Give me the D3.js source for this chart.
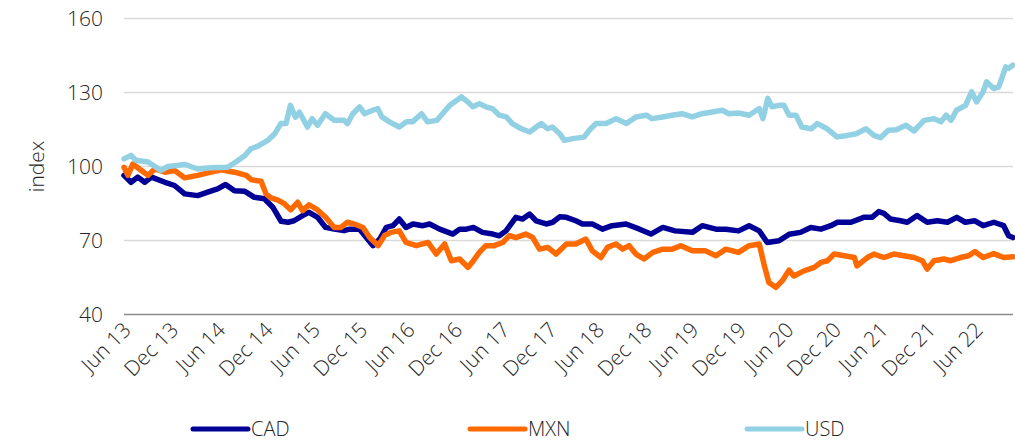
<!DOCTYPE html>
<html>
<head>
<meta charset="utf-8">
<title>index</title>
<script src="https://cdn.jsdelivr.net/npm/d3@7"></script>
<style>
	body{margin:0;background:#fff;}
	text{font-family:"Open Sans",sans-serif;font-weight:300;fill:#262626;}
</style>
</head>
<body>
<script>
var tickLabels=["Jun 13","Dec 13","Jun 14","Dec 14","Jun 15","Dec 15","Jun 16","Dec 16","Jun 17",
				"Dec 17","Jun 18","Dec 18","Jun 19","Dec 19","Jun 20","Dec 20","Jun 21","Dec 21","Jun 22"];
var yTicks=[40,70,100,130,160];
var seriesNames=["CAD","MXN","USD"];

var cad=[["2013-06-01",96.4],["2013-06-28",93.6],["2013-07-24",95.7],["2013-08-20",93.6],["2013-09-15",95.7],
	["2013-11-06",93.6],["2013-12-13",92.3],["2014-01-21",88.9],["2014-03-12",88.2],["2014-04-20",89.6],
	["2014-05-28",90.9],["2014-06-28",92.7],["2014-08-01",90.2],["2014-09-09",90],["2014-10-17",87.5],
	["2014-11-25",86.9],["2014-12-27",83.5],["2015-01-28",77.8],["2015-02-24",77.4],["2015-03-19",78],
	["2015-04-21",80.1],["2015-05-16",81.4],["2015-06-18",79.4],["2015-07-19",75.3],["2015-08-21",74.6],
	["2015-09-28",74],["2015-10-19",74.6],["2015-11-27",74.6],["2015-12-23",71.2],["2016-01-18",67.9],
	["2016-02-13",70.6],["2016-03-09",75.3],["2016-04-04",76],["2016-04-28",78.7],["2016-05-24",75.3],
	["2016-06-20",76.7],["2016-07-28",76],["2016-08-23",76.7],["2016-10-01",74.6],["2016-11-21",72.6],
	["2016-12-17",74.6],["2017-01-12",74.6],["2017-02-08",75.3],["2017-03-15",73.3],["2017-04-24",72.6],
	["2017-05-19",71.9],["2017-06-14",73.9],["2017-07-22",79.4],["2017-08-17",78.7],["2017-09-13",80.7],
	["2017-10-08",78],["2017-11-16",76.7],["2017-12-11",77.4],["2018-01-07",79.6],["2018-02-02",79.4],
	["2018-03-10",78],["2018-04-05",76.7],["2018-05-13",76.7],["2018-06-21",74.6],["2018-07-28",76],
	["2018-09-20",76.7],["2018-11-11",74.6],["2018-12-25",72.6],["2019-02-09",75.3],["2019-03-28",73.9],
	["2019-06-03",73.3],["2019-07-11",76],["2019-09-02",74.6],["2019-10-10",74.6],["2019-11-28",73.9],
	["2020-01-08",76],["2020-02-16",73.9],["2020-03-18",69.2],["2020-05-02",69.9],["2020-06-10",72.5],
	["2020-07-24",73.3],["2020-09-02",75.3],["2020-10-11",74.6],["2020-11-18",76],["2020-12-14",77.4],
	["2021-02-04",77.4],["2021-03-25",79.4],["2021-04-26",79.4],["2021-05-22",81.7],["2021-06-11",81],
	["2021-07-06",78.7],["2021-08-14",78],["2021-09-09",77.4],["2021-10-17",80.1],["2021-11-25",77.4],
	["2022-01-03",78],["2022-02-11",77.4],["2022-03-19",79.4],["2022-04-21",77.4],["2022-05-28",78],
	["2022-06-29",76],["2022-08-09",77.4],["2022-09-16",76],["2022-10-05",71.9],["2022-10-22",71.2]];

var mxn=[["2013-06-01",99.7],["2013-06-16",96.4],["2013-07-05",101],["2013-08-07",98.4],["2013-09-02",96.4],
	["2013-09-27",99],["2013-11-06",97.7],["2013-12-13",98.4],["2014-01-21",95.4],["2014-03-12",96.4],
	["2014-05-03",97.7],["2014-06-11",98.7],["2014-08-01",97.7],["2014-09-16",96.4],["2014-10-05",94.6],
	["2014-11-12",94],["2014-12-01",88.9],["2014-12-20",87.3],["2015-01-16",86.4],["2015-02-11",84.8],
	["2015-03-06",82.4],["2015-04-02",85.5],["2015-04-21",82.1],["2015-05-16",84.5],["2015-06-18",82.4],
	["2015-07-19",79.4],["2015-08-21",75.3],["2015-09-16",75.3],["2015-10-11",77.4],["2015-11-14",76.4],
	["2015-12-10",75.3],["2016-01-05",71.2],["2016-02-07",67.9],["2016-03-02",72],["2016-03-27",73.3],
	["2016-04-28",73.9],["2016-05-24",69.2],["2016-07-03",67.9],["2016-08-17",69.2],["2016-09-18",64.5],
	["2016-10-20",68.6],["2016-11-15",61.8],["2016-12-17",62.5],["2017-01-18",59.1],["2017-02-08",61.8],
	["2017-03-03",65.2],["2017-03-28",67.9],["2017-04-29",67.9],["2017-06-01",69.2],["2017-06-27",72],
	["2017-07-22",71.2],["2017-08-29",72.6],["2017-09-25",71.2],["2017-10-21",66.5],["2017-11-22",67.2],
	["2017-12-24",64.5],["2018-02-02",68.6],["2018-03-10",68.6],["2018-04-18",70.6],["2018-05-13",65.8],
	["2018-06-15",63.1],["2018-07-10",67.2],["2018-08-12",68.6],["2018-09-07",66.5],["2018-10-02",67.9],
	["2018-10-28",64.5],["2018-11-28",62.5],["2019-01-01",65.2],["2019-02-09",66.5],["2019-03-17",66.5],
	["2019-04-19",67.9],["2019-06-03",65.8],["2019-07-24",65.8],["2019-09-02",63.8],["2019-10-10",66.5],
	["2019-11-28",65.2],["2020-01-08",67.9],["2020-02-16",68.6],["2020-03-05",60.5],["2020-03-24",53],
	["2020-04-20",51],["2020-05-15",53.7],["2020-06-10",58],["2020-06-28",55.6],["2020-08-07",57.7],
	["2020-09-15",59.1],["2020-10-11",61.1],["2020-11-05",61.8],["2020-12-01",64.5],["2021-01-09",63.8],
	["2021-02-17",63.1],["2021-02-27",59.7],["2021-04-08",63.1],["2021-05-03",64.5],["2021-06-11",63.1],
	["2021-07-19",64.5],["2021-08-27",63.8],["2021-10-05",63.1],["2021-11-06",61.8],["2021-11-25",58.4],
	["2021-12-21",61.8],["2022-01-28",62.5],["2022-02-24",61.8],["2022-04-02",63.1],["2022-05-04",63.8],
	["2022-05-28",65.5],["2022-06-29",63.1],["2022-08-09",64.7],["2022-09-16",63.1],["2022-10-22",63.4]];

var usd=[["2013-06-01",103.1],["2013-06-28",104.5],["2013-07-17",102.5],["2013-09-02",101.8],["2013-10-03",99.7],
	["2013-10-21",98.4],["2013-11-18",100],["2014-01-23",100.8],["2014-03-12",99],["2014-05-01",99.5],
	["2014-07-06",99.7],["2014-08-06",101.8],["2014-09-11",104.5],["2014-10-03",107.2],["2014-10-29",108.2],
	["2014-12-08",110.6],["2015-01-04",113.3],["2015-01-27",117.4],["2015-02-16",117.4],["2015-03-05",124.8],
	["2015-03-24",120],["2015-04-09",122],["2015-05-10",116],["2015-05-28",119.4],["2015-06-18",116.7],
	["2015-07-18",121.4],["2015-08-22",118.7],["2015-09-28",118.7],["2015-10-11",117.4],["2015-11-01",121.4],
	["2015-11-27",124.2],["2015-12-16",121.4],["2016-01-17",122.8],["2016-02-05",123.5],["2016-02-21",120.1],
	["2016-03-21",118.1],["2016-04-28",116],["2016-05-26",118.1],["2016-06-18",118.1],["2016-07-23",121.4],
	["2016-08-15",118.1],["2016-09-20",118.7],["2016-10-12",121.4],["2016-11-09",124.8],["2016-11-28",126.2],
	["2016-12-24",128.2],["2017-01-17",126.2],["2017-02-06",124.2],["2017-03-03",125.5],["2017-03-28",124.2],
	["2017-04-22",123.5],["2017-05-19",120.8],["2017-06-15",120.1],["2017-07-08",117.4],["2017-08-12",115.3],
	["2017-09-13",114],["2017-10-09",116],["2017-10-28",117.4],["2017-11-21",115.3],["2017-12-10",116],
	["2018-01-07",113.3],["2018-01-25",110.6],["2018-02-26",111.3],["2018-04-11",111.9],["2018-05-01",114.7],
	["2018-05-27",117.4],["2018-07-05",117.4],["2018-08-13",119.4],["2018-09-21",117.4],["2018-10-28",120.1],
	["2018-12-07",120.8],["2018-12-29",119.4],["2019-02-08",120.1],["2019-03-16",120.8],["2019-04-24",121.4],
	["2019-06-02",120.1],["2019-07-10",121.4],["2019-08-18",122.1],["2019-09-26",122.8],["2019-10-22",121.4],
	["2019-11-28",121.7],["2020-01-08",120.8],["2020-02-16",123.5],["2020-03-01",119.4],["2020-03-20",127.6],
	["2020-04-05",124.2],["2020-05-02",124.8],["2020-05-21",124.8],["2020-06-10",120.8],["2020-07-07",120.8],
	["2020-07-29",116],["2020-09-04",115.3],["2020-09-27",117.4],["2020-11-04",115.3],["2020-12-12",112],
	["2021-01-21",112.6],["2021-02-24",113.3],["2021-04-03",115.3],["2021-05-03",112.6],["2021-05-29",111.7],
	["2021-06-28",114.7],["2021-07-29",114.9],["2021-09-04",116.7],["2021-10-05",114.4],["2021-11-13",118.7],
	["2021-12-21",119.4],["2022-01-17",118.1],["2022-02-06",120.8],["2022-02-25",118.7],["2022-03-18",122.8],
	["2022-04-22",124.8],["2022-05-15",130.3],["2022-06-04",126.2],["2022-06-29",130.3],["2022-07-12",134.3],
	["2022-08-09",131.6],["2022-08-28",132.3],["2022-09-24",140.4],["2022-10-05",139.8],["2022-10-21",141.1]];

var colors=["#000096","#ff6a00","#92d1e3"];

var w=1015, h=443;
var parseDate=d3.timeParse("%Y-%m-%d");
var parseTick=d3.timeParse("%b %y");

var svg=d3.select("body").append("svg")
	.attr("width",w)
	.attr("height",h);

var xScale=d3.scaleTime()
	.domain([parseDate("2013-06-01"),parseDate("2022-10-22")])
	.range([124,1013]);

var yScale=d3.scaleLinear()
	.domain([40,160])
	.range([314.5,18.5]);

// grid
svg.selectAll("line.grid")
	.data(yTicks)
	.enter()
	.append("line")
	.attr("class","grid")
	.attr("x1",124)
	.attr("x2",1013)
	.attr("y1",function(d){return yScale(d);})
	.attr("y2",function(d){return yScale(d);})
	.attr("stroke",function(d){return d==40?"#8c8c8c":"#d9d9d9";})
	.attr("stroke-width",1.5);

svg.selectAll("text.ytick")
	.data(yTicks)
	.enter()
	.append("text")
	.attr("class","ytick")
	.attr("x",103)
	.attr("y",function(d){return yScale(d);})
	.attr("dy","0.36em")
	.attr("text-anchor","end")
	.attr("font-size","21px")
	.text(function(d){return d;});

svg.append("text")
	.attr("transform","translate(44,166.5) rotate(-90)")
	.attr("text-anchor","middle")
	.attr("font-size","21px")
	.text("index");

svg.selectAll("text.xtick")
	.data(tickLabels)
	.enter()
	.append("text")
	.attr("class","xtick")
	.attr("text-anchor","end")
	.attr("font-size","21px")
	.attr("dy","0.35em")
	.attr("transform",function(d){
		return "translate("+(xScale(parseTick(d))+3)+",326) rotate(-45)";
	})
	.text(function(d){return d;});

// lines
var line=d3.line()
	.x(function(d){return xScale(parseDate(d[0]));})
	.y(function(d){return yScale(d[1]);});

[cad,mxn,usd].forEach(function(s,i){
	svg.append("path")
		.datum(s)
		.attr("d",line)
		.attr("fill","none")
		.attr("stroke",colors[i])
		.attr("stroke-width",5.5)
		.attr("stroke-linejoin","round")
		.attr("stroke-linecap","round");
});

// legend
var legend=svg.selectAll("g.legend")
	.data(seriesNames)
	.enter()
	.append("g")
	.attr("class","legend")
	.attr("transform",function(d,i){return "translate("+(193+i*277)+",429)";});

legend.append("line")
	.attr("x1",0)
	.attr("x2",55)
	.attr("stroke",function(d,i){return colors[i];})
	.attr("stroke-width",5)
	.attr("stroke-linecap","round");

legend.append("text")
	.attr("x",58)
	.attr("dy","0.36em")
	.attr("font-size","20px")
	.text(function(d){return d;});
</script>
</body>
</html>
